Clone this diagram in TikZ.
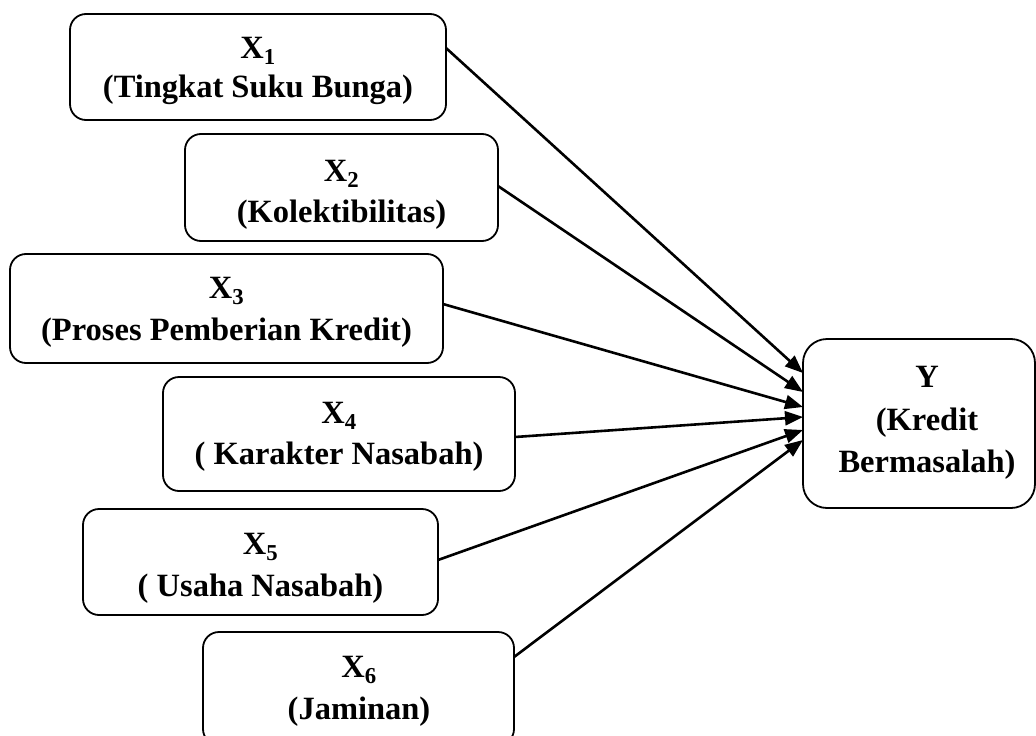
\documentclass[tikz,border=0pt]{standalone}
\usepackage{fontspec}
\setmainfont{Liberation Serif}
\usetikzlibrary{arrows.meta}
\tikzset{
  box/.style={draw, line width=1.8pt, rounded corners=16pt, outer sep=0pt, inner sep=0pt},
  lbl/.style={anchor=base, inner sep=0pt, font=\fontsize{32.5}{38}\selectfont\bfseries},
  conn/.style={line width=2.6pt, -{Triangle[length=18pt,width=14pt]}}
}
\begin{document}
\begin{tikzpicture}[x=1pt,y=-1pt]
\useasboundingbox (0,0) rectangle (1036,736);
% boxes
\node[box, minimum width=376pt, minimum height=106pt] (X1) at (258,67) {};
\node[box, minimum width=313pt, minimum height=107pt] (X2) at (341.5,187.5) {};
\node[box, minimum width=433pt, minimum height=109pt] (X3) at (226.5,308.5) {};
\node[box, minimum width=352pt, minimum height=114pt] (X4) at (339,434) {};
\node[box, minimum width=355pt, minimum height=106pt] (X5) at (260.5,562) {};
\node[box, minimum width=311pt, minimum height=113pt] (X6) at (358.5,688.5) {};
\node[box, rounded corners=24pt, minimum width=232pt, minimum height=169pt] (Y) at (919,423.5) {};
% texts
\node[lbl] (X1a) at (258,58) {X\textsubscript{1}};
\node[lbl] (X1b) at (258,97) {(Tingkat Suku Bunga)};
\node[lbl] (X2a) at (341.5,181) {X\textsubscript{2}};
\node[lbl] (X2b) at (341.5,222) {(Kolektibilitas)};
\node[lbl] (X3a) at (226.5,298) {X\textsubscript{3}};
\node[lbl] (X3b) at (226.5,340) {(Proses Pemberian Kredit)};
\node[lbl] (X4a) at (339,423) {X\textsubscript{4}};
\node[lbl] (X4b) at (339,464) {( Karakter Nasabah)};
\node[lbl] (X5a) at (260.5,554) {X\textsubscript{5}};
\node[lbl] (X5b) at (260.5,596) {( Usaha Nasabah)};
\node[lbl] (X6a) at (359,677) {X\textsubscript{6}};
\node[lbl] (X6b) at (359,719) {(Jaminan)};
\node[lbl] (Ya) at (927,387) {Y};
\node[lbl] (Yb) at (927,430) {(Kredit};
\node[lbl] (Yc) at (927,472) {Bermasalah)};
% connectors
\draw[conn] ([yshift=19pt]X1.east) -- ([yshift=50.5pt]Y.west);
\draw[conn] ([yshift=1.5pt]X2.east) -- ([yshift=31.5pt]Y.west);
\draw[conn] ([yshift=4.5pt]X3.east) -- ([yshift=16.5pt]Y.west);
\draw[conn] ([yshift=-3pt]X4.east) -- ([yshift=6.5pt]Y.west);
\draw[conn] ([yshift=2pt]X5.east) -- ([yshift=-6.5pt]Y.west);
\draw[conn] ([yshift=31.5pt]X6.east) -- ([yshift=-16.5pt]Y.west);
\end{tikzpicture}
\end{document}
